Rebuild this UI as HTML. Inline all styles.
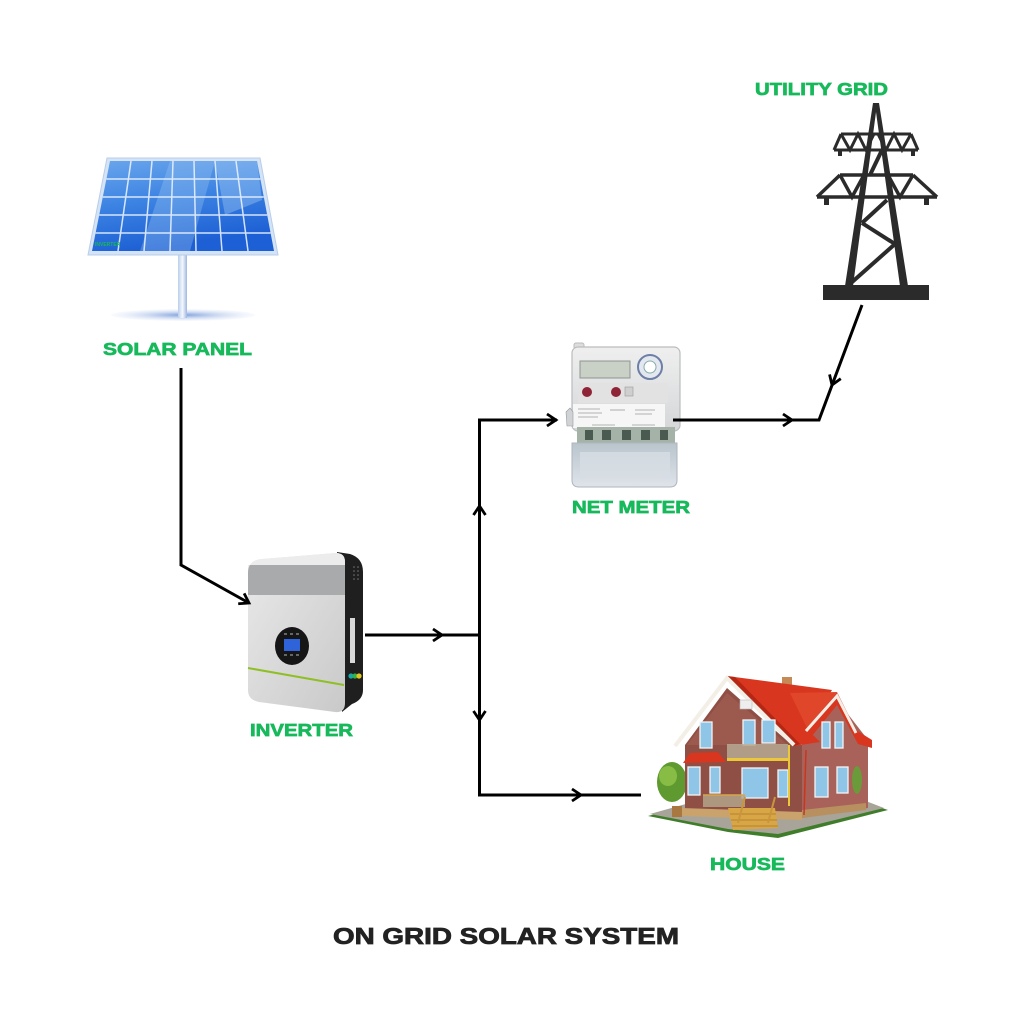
<!DOCTYPE html>
<html><head><meta charset="utf-8"><style>
html,body{margin:0;padding:0;background:#fff;}
svg{display:block;}
</style></head><body>
<svg width="1024" height="1024" viewBox="0 0 1024 1024" xmlns="http://www.w3.org/2000/svg">
<defs>
<linearGradient id="pg" x1="0" y1="0" x2="0.3" y2="1">
<stop offset="0" stop-color="#6aa6ec"/><stop offset="0.5" stop-color="#3b82e2"/><stop offset="1" stop-color="#1d5fd4"/>
</linearGradient>
<linearGradient id="pole" x1="0" y1="0" x2="1" y2="0">
<stop offset="0" stop-color="#b9cdea"/><stop offset="0.5" stop-color="#f4f8ff"/><stop offset="1" stop-color="#9fb7de"/>
</linearGradient>
<radialGradient id="shadow"><stop offset="0" stop-color="#7fa0dc"/><stop offset="1" stop-color="#dfe8f8" stop-opacity="0.2"/></radialGradient>
<linearGradient id="inv" x1="0" y1="0" x2="1" y2="1">
<stop offset="0" stop-color="#e9e9e9"/><stop offset="1" stop-color="#c9c9c9"/>
</linearGradient>
<linearGradient id="met" x1="0" y1="0" x2="0" y2="1">
<stop offset="0" stop-color="#efefef"/><stop offset="1" stop-color="#d4d6d8"/>
</linearGradient>
<linearGradient id="metb" x1="0" y1="0" x2="0" y2="1">
<stop offset="0" stop-color="#b9c4cc"/><stop offset="1" stop-color="#dfe4ea"/>
</linearGradient>
</defs>

<!-- ============ SOLAR PANEL ============ -->
<ellipse cx="183" cy="315" rx="72" ry="6" fill="url(#shadow)"/>
<rect x="178" y="252" width="9" height="66" fill="url(#pole)"/>
<polygon points="107,158 260,158 278,255 88,255" fill="#d5e3f6" stroke="#b8cde8" stroke-width="1"/>
<polygon points="110,161 257,161 274,251 92,251" fill="url(#pg)"/>
<polygon points="170,161 215,161 190,251 140,251" fill="#9cc6f2" opacity="0.35"/>
<polygon points="215,161 257,161 262,200 225,215" fill="#b5d6f6" opacity="0.35"/>
<g stroke="#e8f1fc" stroke-width="1.5" opacity="0.9">
<line x1="131" y1="161" x2="118" y2="251"/><line x1="152" y1="161" x2="144" y2="251"/>
<line x1="173" y1="161" x2="170" y2="251"/><line x1="194" y1="161" x2="196" y2="251"/>
<line x1="215" y1="161" x2="222" y2="251"/><line x1="236" y1="161" x2="248" y2="251"/>
<line x1="106.4" y1="179" x2="260.4" y2="179"/><line x1="102.8" y1="197" x2="263.8" y2="197"/>
<line x1="99.2" y1="215" x2="267.2" y2="215"/><line x1="95.6" y1="233" x2="270.6" y2="233"/>
</g>
<text x="95" y="246" font-family="Liberation Sans, sans-serif" font-weight="bold" font-size="5" fill="#18b85a">INVERTER</text>

<!-- ============ UTILITY TOWER ============ -->
<g fill="#2b2b2b" stroke="#2b2b2b">
<polygon points="873,103 879,103 908,286 900,286 876,112 853,286 845,286" stroke="none"/>
<rect x="823" y="285" width="106" height="15" stroke="none"/>
<g fill="none" stroke-width="3">
<line x1="841" y1="134" x2="911" y2="134"/>
<line x1="834" y1="150" x2="918" y2="150"/>
<polyline points="841,134 850,150 858,134 866,150 874,134"/>
<polyline points="878,134 886,150 894,134 902,150 911,134"/>
</g>
<line x1="834" y1="150" x2="841" y2="134" stroke-width="3"/>
<line x1="918" y1="150" x2="911" y2="134" stroke-width="3"/>
<rect x="838" y="150" width="4" height="6" stroke="none"/>
<rect x="911" y="150" width="4" height="6" stroke="none"/>
<g fill="none" stroke-width="3.5">
<line x1="840" y1="175" x2="913" y2="175"/>
<line x1="817" y1="197" x2="937" y2="197"/>
<line x1="817" y1="197" x2="840" y2="175"/>
<line x1="937" y1="197" x2="913" y2="175"/>
<polyline points="840,175 852,197 864,175"/>
<polyline points="888,175 900,197 913,175"/>
</g>
<rect x="824" y="197" width="5" height="8" stroke="none"/>
<rect x="924" y="197" width="5" height="8" stroke="none"/>
<g fill="none" stroke-width="4">
<line x1="887" y1="200" x2="862" y2="223"/>
<line x1="862" y1="223" x2="895" y2="244"/>
<line x1="895" y1="244" x2="851" y2="283"/>
<line x1="882" y1="150" x2="870" y2="175"/>
</g>
</g>

<!-- ============ NET METER ============ -->
<g>
<rect x="574" y="343" width="10" height="6" rx="2" fill="#ddd" stroke="#bbb"/>
<rect x="572" y="347" width="108" height="84" rx="6" fill="url(#met)" stroke="#b9bcbf" stroke-width="1.2"/>
<rect x="580" y="361" width="50" height="17" fill="#c9d0c6" stroke="#8f9590"/>
<circle cx="650" cy="367" r="12" fill="#e3e8f0" stroke="#6d7fa6" stroke-width="2"/>
<circle cx="650" cy="367" r="6" fill="#fff" stroke="#8aa" stroke-width="1"/>
<rect x="578" y="383" width="90" height="20" fill="#e2e2e2"/>
<circle cx="587" cy="392" r="5" fill="#8e2435"/>
<circle cx="616" cy="392" r="5" fill="#8e2435"/>
<rect x="625" y="387" width="8" height="9" fill="#cfcfcf" stroke="#999" stroke-width="0.6"/>
<rect x="573" y="404" width="92" height="24" fill="#f6f6f6"/>
<g stroke="#9a9a9a" stroke-width="0.8">
<line x1="578" y1="409" x2="600" y2="409"/><line x1="578" y1="413" x2="602" y2="413"/>
<line x1="578" y1="417" x2="598" y2="417"/><line x1="610" y1="410" x2="625" y2="410"/>
<line x1="635" y1="410" x2="655" y2="410"/><line x1="635" y1="414" x2="652" y2="414"/>
<line x1="592" y1="425" x2="615" y2="425"/><line x1="632" y1="425" x2="655" y2="425"/>
</g>
<rect x="577" y="427" width="98" height="17" fill="#a4b2a8"/>
<g fill="#4b5a50"><rect x="585" y="430" width="8" height="10"/><rect x="602" y="430" width="9" height="10"/><rect x="622" y="430" width="9" height="10"/><rect x="641" y="430" width="9" height="10"/><rect x="660" y="430" width="8" height="10"/></g>
<path d="M572,443 H677 V480 Q677,487 670,487 H579 Q572,487 572,480 Z" fill="url(#metb)" stroke="#aeb6bf" stroke-width="1"/>
<rect x="580" y="452" width="90" height="26" fill="#d7dde4" opacity="0.8"/>
<path d="M566,412 l4,-4 l3,4 v14 h-6 z" fill="#cfd3d6" stroke="#999" stroke-width="0.6"/>
</g>

<!-- ============ INVERTER ============ -->
<g>
<path d="M337,552 L350,554 Q363,558 363,572 L363,690 Q363,700 352,704 L342,712 Z" fill="#1f1f1f"/>
<path d="M262,559 L336,553 Q345,553 345,562 L345,703 Q345,713 335,712 L259,702 Q248,700 248,690 L248,573 Q248,560 262,559 Z" fill="url(#inv)"/>
<path d="M248,565 L345,565 L345,595 L248,595 Z" fill="#a9aaab"/>
<path d="M262,559 L336,553 Q345,553 345,562 L345,565 L248,565 L248,573 Q248,560 262,559 Z" fill="#ececec"/>
<ellipse cx="292" cy="646" rx="17" ry="19" fill="#161616"/>
<rect x="284" y="639" width="16" height="12" fill="#2f63da"/>
<g fill="#666"><rect x="284" y="633" width="3" height="2"/><rect x="290" y="633" width="3" height="2"/><rect x="296" y="633" width="3" height="2"/><rect x="284" y="654" width="3" height="2"/><rect x="290" y="654" width="3" height="2"/><rect x="296" y="654" width="3" height="2"/></g>
<line x1="248" y1="668" x2="344" y2="685" stroke="#8fbf25" stroke-width="2"/>
<rect x="350" y="618" width="5" height="45" fill="#d8d8d8"/>
<circle cx="351" cy="676" r="2.6" fill="#1aa7a7"/>
<circle cx="355" cy="676" r="2.6" fill="#2fb24a"/>
<circle cx="359" cy="676" r="2.6" fill="#e3c51f"/>
<g fill="#777"><circle cx="354" cy="567" r="0.8"/><circle cx="358" cy="567" r="0.8"/><circle cx="354" cy="571" r="0.8"/><circle cx="358" cy="571" r="0.8"/><circle cx="354" cy="575" r="0.8"/><circle cx="358" cy="575" r="0.8"/><circle cx="354" cy="579" r="0.8"/><circle cx="358" cy="579" r="0.8"/></g>
</g>

<!-- ============ HOUSE ============ -->
<g>
<polygon points="648,816 700,802 858,800 888,810 778,838 728,832" fill="#3f7d2a"/>
<polygon points="650,814 700,800 858,798 884,808 778,834 728,829" fill="#a8a49a"/>
<ellipse cx="672" cy="782" rx="15" ry="20" fill="#5e9a2f"/>
<ellipse cx="668" cy="776" rx="9" ry="10" fill="#88bd45"/>
<rect x="672" y="806" width="10" height="11" fill="#a87840"/>
<polygon points="802,740 837,700 868,740 868,808 802,818" fill="#a9625a"/>
<polygon points="685,745 727,688 792,745 802,745 802,818 685,815" fill="#8f4f45"/>
<polygon points="687,745 727,693 788,745" fill="#9c5a4f"/>
<polygon points="682,808 802,812 802,820 682,816" fill="#c9a36b"/>
<polygon points="802,810 866,803 866,810 802,818" fill="#b89060"/>
<rect x="782" y="677" width="10" height="12" fill="#c58a55"/>
<polygon points="727,676 832,690 808,730 820,742 794,746" fill="#d8361f"/>
<polygon points="727,676 735,677 800,744 794,746" fill="#b52614"/>
<polygon points="790,693 837,692 808,730" fill="#e0462a"/>
<polygon points="837,692 856,730 872,740 872,748 858,744 837,705 812,736 806,731" fill="#d8361f"/>
<polyline points="675,746 727,678 794,745" fill="none" stroke="#f3efe6" stroke-width="4"/>
<polyline points="806,731 837,696 856,733" fill="none" stroke="#f3efe6" stroke-width="3"/>
<polygon points="690,753 718,752 726,762 683,763" fill="#d8361f"/>
<rect x="740" y="700" width="12" height="9" fill="#eee" stroke="#bbb" stroke-width="0.6"/>
<g fill="#8fc6e8" stroke="#f4f4f4" stroke-width="1.3">
<rect x="700" y="722" width="12" height="26"/>
<rect x="743" y="720" width="12" height="25"/>
<rect x="762" y="720" width="13" height="23"/>
<rect x="688" y="767" width="12" height="28"/>
<rect x="710" y="767" width="10" height="26"/>
<rect x="742" y="768" width="26" height="30"/>
<rect x="778" y="770" width="10" height="27"/>
<rect x="822" y="722" width="8" height="26"/>
<rect x="835" y="722" width="8" height="26"/>
<rect x="815" y="767" width="13" height="30"/>
<rect x="837" y="767" width="11" height="26"/>
</g>
<rect x="727" y="744" width="61" height="15" fill="#b7aa93" opacity="0.85"/>
<rect x="727" y="758" width="63" height="3" fill="#e9c93a"/>
<line x1="789" y1="745" x2="789" y2="806" stroke="#e9c93a" stroke-width="2"/>
<rect x="703" y="795" width="42" height="12" fill="#b3a48a" opacity="0.85"/>
<line x1="703" y1="795" x2="745" y2="795" stroke="#d7a64c" stroke-width="1.5"/>
<polygon points="728,808 775,808 778,828 733,830" fill="#d9a645"/>
<g stroke="#b4832f" stroke-width="1"><line x1="730" y1="814" x2="776" y2="814"/><line x1="731" y1="820" x2="777" y2="820"/><line x1="732" y1="826" x2="778" y2="826"/></g>
<line x1="745" y1="797" x2="738" y2="823" stroke="#c9953d" stroke-width="2"/>
<line x1="775" y1="797" x2="768" y2="823" stroke="#c9953d" stroke-width="2"/>
<line x1="806" y1="750" x2="804" y2="815" stroke="#c8361f" stroke-width="1.5"/>
<ellipse cx="857" cy="780" rx="5" ry="14" fill="#6a9a3a"/>
</g>

<!-- ============ CONNECTORS ============ -->
<g fill="none" stroke="#000" stroke-width="3" stroke-linejoin="miter" stroke-linecap="butt">
<polyline points="181,368 181,565 249,603"/>
<line x1="365" y1="635" x2="480" y2="635"/>
<line x1="479.5" y1="419" x2="479.5" y2="796"/>
<polyline points="478,420 557,420"/>
<polyline points="478,795 641,795"/>
<polyline points="673,420 819,420 862,305"/>
</g>
<g fill="none" stroke="#000" stroke-width="2.8" stroke-linejoin="miter">
<path d="M-9,-6 L0,0 L-9,6" transform="translate(249,603) rotate(29.6)"/>
<path d="M-9,-6 L0,0 L-9,6" transform="translate(442,635)"/>
<path d="M-9,-6 L0,0 L-9,6" transform="translate(556,420)"/>
<path d="M-9,-6 L0,0 L-9,6" transform="translate(479.5,506) rotate(-90)"/>
<path d="M-9,-6 L0,0 L-9,6" transform="translate(479.5,720) rotate(90)"/>
<path d="M-9,-6 L0,0 L-9,6" transform="translate(581,795)"/>
<path d="M-9,-6 L0,0 L-9,6" transform="translate(792,420)"/>
<path d="M-9,-6 L0,0 L-9,6" transform="translate(832,385) rotate(110.6)"/>
</g>

<!-- ============ LABELS ============ -->
<g font-family="Liberation Sans, Arial, sans-serif" font-weight="bold" fill="#17b95b" stroke="#17b95b" stroke-width="0.7">
<text x="755" y="95" font-size="17.5" textLength="133" lengthAdjust="spacingAndGlyphs">UTILITY GRID</text>
<text x="103" y="355" font-size="17.5" textLength="149" lengthAdjust="spacingAndGlyphs">SOLAR PANEL</text>
<text x="572" y="513" font-size="17.5" textLength="118" lengthAdjust="spacingAndGlyphs">NET METER</text>
<text x="250" y="736" font-size="17.5" textLength="103" lengthAdjust="spacingAndGlyphs">INVERTER</text>
<text x="710" y="870" font-size="17.5" textLength="75" lengthAdjust="spacingAndGlyphs">HOUSE</text>
</g>
<text x="333" y="944" font-family="Liberation Sans, Arial, sans-serif" font-weight="bold" font-size="23.5" fill="#222" stroke="#222" stroke-width="0.8" textLength="346" lengthAdjust="spacingAndGlyphs">ON GRID SOLAR SYSTEM</text>
</svg>
</body></html>
